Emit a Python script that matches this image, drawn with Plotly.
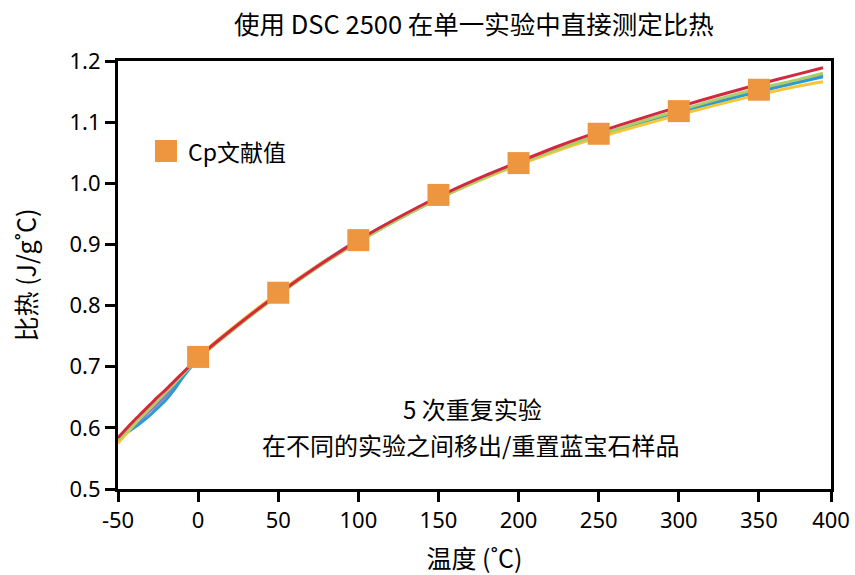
import plotly.graph_objects as go

# Temperatures (°C) at which each DSC run is sampled
temps = [-50, -45, -40, -35, -30, -25, -20, -15, -10, -5, 0, 25, 50, 75, 100,
         125, 150, 175, 200, 225, 250, 275, 300, 325, 350, 375, 390]

# Specific heat (J/g°C) for the five repeat runs
run_1 = [0.584, 0.598, 0.612, 0.625, 0.638, 0.651, 0.663, 0.676, 0.689, 0.702, 0.715, 0.769, 0.819, 0.865, 0.907,
         0.944, 0.978, 1.008, 1.035, 1.061, 1.084, 1.105, 1.125, 1.144, 1.162, 1.179, 1.189]
run_2 = [0.581, 0.591, 0.600, 0.610, 0.621, 0.633, 0.646, 0.662, 0.681, 0.698, 0.713, 0.769, 0.820, 0.866, 0.907,
         0.943, 0.976, 1.006, 1.032, 1.056, 1.077, 1.097, 1.115, 1.133, 1.150, 1.165, 1.174]
run_3 = [0.580, 0.593, 0.607, 0.620, 0.633, 0.646, 0.659, 0.672, 0.686, 0.700, 0.713, 0.767, 0.817, 0.863, 0.904,
         0.941, 0.975, 1.005, 1.032, 1.057, 1.079, 1.100, 1.119, 1.138, 1.155, 1.170, 1.180]
run_4 = [0.575, 0.590, 0.605, 0.619, 0.632, 0.646, 0.660, 0.674, 0.688, 0.702, 0.716, 0.771, 0.821, 0.866, 0.906,
         0.942, 0.975, 1.004, 1.030, 1.054, 1.075, 1.094, 1.112, 1.129, 1.145, 1.159, 1.166]
run_5 = [0.580, 0.592, 0.604, 0.616, 0.628, 0.640, 0.653, 0.667, 0.684, 0.699, 0.713, 0.768, 0.818, 0.864, 0.905,
         0.942, 0.975, 1.005, 1.032, 1.056, 1.078, 1.098, 1.117, 1.135, 1.152, 1.167, 1.177]

# Literature Cp values for sapphire
lit_temps = [0, 50, 100, 150, 200, 250, 300, 350]
lit_cp = [0.716, 0.821, 0.907, 0.981, 1.033, 1.081, 1.118, 1.153]

# Axis ticks; the right-hand frame edge carries the "400" label
x_tick_vals = [-50, 0, 50, 100, 150, 200, 250, 300, 350, 395]
x_tick_text = ["-50", "0", "50", "100", "150", "200", "250", "300", "350", "400"]
y_ticks = [0.5, 0.6, 0.7, 0.8, 0.9, 1.0, 1.1, 1.2]

TXT = "Noto Sans, Noto Sans CJK SC, sans-serif"
CJK = "Noto Sans CJK SC, Noto Sans, sans-serif"
ORANGE = "#EE953F"

runs = [
    (run_5, "#8E7CC3"),
    (run_2, "#2B9BD6"),
    (run_4, "#F5C53A"),
    (run_3, "#A7CF6B"),
    (run_1, "#D3283E"),
]

fig = go.Figure()
for i, (vals, col) in enumerate(runs):
    fig.add_trace(go.Scatter(
        x=temps, y=vals, mode="lines", name=f"run {i + 1}",
        line=dict(color=col, width=3, shape="spline", smoothing=0.8),
        showlegend=False, hoverinfo="skip",
    ))

fig.add_trace(go.Scatter(
    x=lit_temps, y=lit_cp, mode="markers", name="Cp文献值",
    marker=dict(symbol="square", size=22, color=ORANGE, line=dict(width=0)),
    showlegend=False,
))

# Plot area in pixels: x 118..831, y 61..489
PL, PR, PT, PB = 118, 831, 61, 489
W, H = 855, 575


def px(xp):
    return (xp - PL) / (PR - PL)


def py(yp):
    return (PB - yp) / (PB - PT)


# Legend key drawn by hand so the square matches the plotted markers
fig.add_shape(type="rect", xref="paper", yref="paper",
              x0=px(155), x1=px(177), y0=py(162), y1=py(140),
              fillcolor=ORANGE, line=dict(width=0))
fig.add_annotation(x=px(186), y=py(151), xref="paper", yref="paper",
                   text="Cp文献值", showarrow=False, xanchor="left", yanchor="middle",
                   font=dict(family=CJK, size=23, color="black"))

# Note about the repeat runs
fig.add_annotation(x=px(472), y=py(408), xref="paper", yref="paper",
                   text="5 次重复实验", showarrow=False, xanchor="center", yanchor="middle",
                   font=dict(family=CJK, size=24, color="black"))
fig.add_annotation(x=px(470), y=py(444), xref="paper", yref="paper",
                   text="在不同的实验之间移出/重置蓝宝石样品", showarrow=False,
                   xanchor="center", yanchor="middle",
                   font=dict(family=CJK, size=24, color="black"))

axis_common = dict(
    showline=True, linewidth=3, linecolor="black", mirror=True,
    ticks="outside", ticklen=10, tickwidth=3, tickcolor="black",
    showgrid=False, zeroline=False, automargin=False,
    tickfont=dict(family=TXT, size=22, color="black"),
)

fig.update_layout(
    width=W, height=H, autosize=False,
    margin=dict(l=PL, r=W - PR, t=PT, b=H - PB),
    paper_bgcolor="white", plot_bgcolor="white",
    title=dict(text="使用 DSC 2500 在单一实验中直接测定比热",
               x=(474) / W, xanchor="center", y=1 - 25 / H, yanchor="middle",
               font=dict(family=CJK, size=25.5, color="black")),
    xaxis=dict(range=[-50, 395], tickvals=x_tick_vals, ticktext=x_tick_text,
               title=dict(text="温度 (˚C)", font=dict(family=CJK, size=25, color="black"), standoff=18),
               **axis_common),
    yaxis=dict(range=[0.5, 1.2], tickvals=y_ticks, tickformat=".1f",
               title=dict(text="比热 (J/g˚C)", font=dict(family=CJK, size=25, color="black"), standoff=26),
               **axis_common),
)

fig.write_html("out.html")
